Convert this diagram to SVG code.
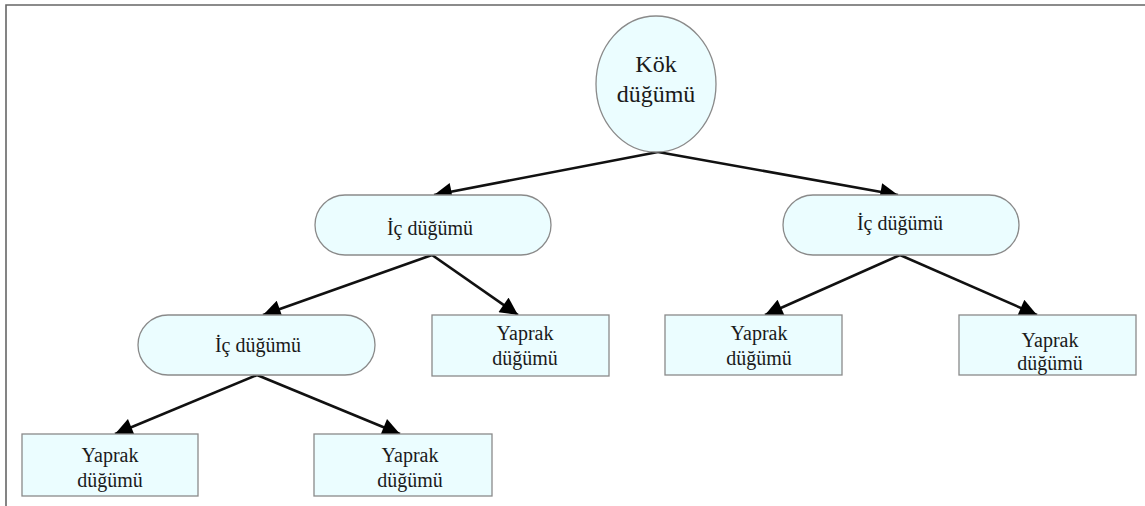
<svg xmlns="http://www.w3.org/2000/svg" width="1145" height="506" viewBox="0 0 1145 506">
<style>
  .n { fill: #ebfdff; stroke: #8a8a8a; stroke-width: 1.3; }
  .t { font-family: "Liberation Serif", "Times New Roman", serif; font-size: 20px; fill: #1a1a1a; text-anchor: middle; }
  .r { font-size: 24px; }
  .c { stroke: #111; stroke-width: 2.6; fill: none; marker-end: url(#ah); }
</style>
<defs>
  <marker id="ah" viewBox="0 0 10 10" refX="10" refY="5" markerWidth="7.4" markerHeight="6.8" markerUnits="strokeWidth" orient="auto">
    <path d="M0,0 L10,5 L0,10 z" fill="#000"/>
  </marker>
</defs>
<rect width="1145" height="506" fill="#fff"/>
<path d="M6,506 V5 H1145" fill="none" stroke="#666" stroke-width="1.6"/>

<g id="connectors">
  <line class="c" x1="658" y1="152" x2="434" y2="195"/>
  <line class="c" x1="658" y1="152" x2="898" y2="195"/>
  <line class="c" x1="432" y1="255" x2="263" y2="315"/>
  <line class="c" x1="432" y1="255" x2="518" y2="315"/>
  <line class="c" x1="900" y1="255" x2="765" y2="315"/>
  <line class="c" x1="900" y1="255" x2="1037" y2="315"/>
  <line class="c" x1="257" y1="375" x2="115" y2="434"/>
  <line class="c" x1="257" y1="375" x2="400" y2="434"/>
</g>

<g id="root">
  <ellipse class="n" cx="656" cy="84" rx="60" ry="68"/>
  <text class="t r" x="656" y="72">Kök</text>
  <text class="t r" x="656" y="102">düğümü</text>
</g>

<g id="ic1">
  <rect class="n" x="315" y="195" width="236" height="60" rx="30"/>
  <text class="t" x="430" y="235">İç düğümü</text>
</g>
<g id="ic2">
  <rect class="n" x="783" y="195" width="236" height="60" rx="30"/>
  <text class="t" x="900" y="230">İç düğümü</text>
</g>
<g id="ic3">
  <rect class="n" x="138" y="315" width="237" height="60" rx="30"/>
  <text class="t" x="258" y="352">İç düğümü</text>
</g>

<g id="leaf1">
  <rect class="n" x="432" y="315" width="177" height="61"/>
  <text class="t" x="525" y="340">Yaprak</text>
  <text class="t" x="525" y="365">düğümü</text>
</g>
<g id="leaf2">
  <rect class="n" x="665" y="315" width="177" height="60"/>
  <text class="t" x="759" y="340">Yaprak</text>
  <text class="t" x="759" y="365">düğümü</text>
</g>
<g id="leaf3">
  <rect class="n" x="959" y="315" width="177" height="60"/>
  <text class="t" x="1050" y="347">Yaprak</text>
  <text class="t" x="1050" y="370">düğümü</text>
</g>
<g id="leaf4">
  <rect class="n" x="22" y="434" width="176" height="62"/>
  <text class="t" x="110" y="462">Yaprak</text>
  <text class="t" x="110" y="487">düğümü</text>
</g>
<g id="leaf5">
  <rect class="n" x="314" y="434" width="178" height="62"/>
  <text class="t" x="410" y="462">Yaprak</text>
  <text class="t" x="410" y="487">düğümü</text>
</g>
</svg>
